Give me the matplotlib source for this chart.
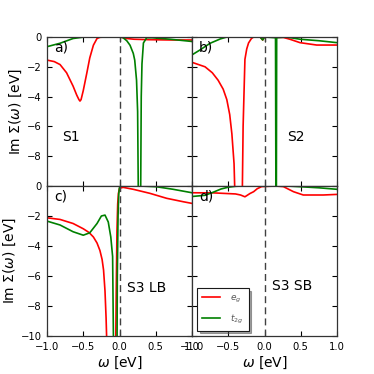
import matplotlib
matplotlib.use("Agg")
import matplotlib.pyplot as plt

plt.rcParams['font.family'] = ['DejaVu Sans']
plt.rcParams['mathtext.fontset'] = 'dejavusans'

OFF = -12.0  # values beyond the plotted range (clipped)

# Panel a) S1
a_eg_w = [-1.0, -0.9, -0.82, -0.73, -0.64, -0.59, -0.56, -0.545, -0.53, -0.5, -0.45, -0.41, -0.36, -0.31, -0.27, -0.2, 0.0, 0.05, 0.1, 0.2, 0.4, 0.7, 1.0]
a_eg_v = [-1.55, -1.65, -1.85, -2.4, -3.3, -3.9, -4.2, -4.3, -4.2, -3.6, -2.4, -1.4, -0.55, -0.1, -0.02, 0.0, 0.0, -0.04, -0.1, -0.15, -0.18, -0.2, -0.2]
a_t2g_w = [-1.0, -0.82, -0.64, -0.5, -0.3, 0.02, 0.05, 0.1, 0.145, 0.19, 0.21, 0.235, 0.25, 0.262, 0.29, 0.3, 0.31, 0.33, 0.375, 0.45, 0.7, 1.0]
a_t2g_v = [-0.65, -0.42, -0.1, -0.01, 0.0, 0.0, -0.05, -0.25, -0.55, -1.1, -1.55, -2.9, -5.0, OFF, OFF, -4.0, -1.8, -0.4, -0.05, -0.05, -0.15, -0.3]

# Panel b) S2
b_eg_w = [-1.0, -0.82, -0.72, -0.64, -0.57, -0.52, -0.48, -0.45, -0.42, -0.40, -0.31, -0.295, -0.285, -0.27, -0.245, -0.22, -0.18, -0.15, -0.06, -0.025, 0.0, 0.26, 0.35, 0.49, 0.72, 1.0]
b_eg_v = [-1.7, -2.0, -2.4, -2.9, -3.5, -4.2, -5.2, -6.5, -8.5, OFF, OFF, -6.0, -4.2, -1.5, -0.8, -0.4, -0.1, 0.0, 0.0, -0.2, 0.0, -0.03, -0.15, -0.38, -0.54, -0.54]
b_t2g_w = [-1.0, -0.89, -0.75, -0.61, -0.52, -0.06, -0.025, 0.0, 0.152, 0.158, 0.163, 0.168, 0.3, 0.49, 0.75, 1.0]
b_t2g_v = [-1.2, -0.87, -0.42, -0.13, 0.0, 0.0, -0.2, 0.0, -0.05, OFF, OFF, -0.05, 0.0, -0.15, -0.25, -0.38]

# Panel c) S3 LB
c_eg_w = [-1.0, -0.82, -0.64, -0.5, -0.42, -0.36, -0.31, -0.27, -0.24, -0.22, -0.2, -0.185, -0.175, -0.17, -0.055, -0.045, -0.035, -0.025, -0.015, 0.0, 0.05, 0.19, 0.42, 0.65, 0.88, 1.0]
c_eg_v = [-2.12, -2.23, -2.5, -2.85, -3.1, -3.4, -3.8, -4.3, -4.9, -5.6, -7.0, -8.8, -10.5, OFF, OFF, -7.0, -3.0, -1.2, -0.5, -0.15, -0.09, -0.22, -0.49, -0.82, -1.05, -1.16]
c_t2g_w = [-1.0, -0.82, -0.64, -0.5, -0.41, -0.31, -0.25, -0.2, -0.155, -0.12, -0.095, -0.08, -0.035, -0.03, -0.02, -0.01, 0.0, 0.02, 0.28, 0.51, 0.74, 1.0]
c_t2g_v = [-2.34, -2.6, -3.05, -3.28, -3.12, -2.5, -2.0, -1.94, -2.4, -3.4, -4.7, OFF, OFF, -6.0, -2.0, -0.5, -0.1, 0.0, 0.0, -0.05, -0.22, -0.45]

# Panel d) S3 SB
d_eg_w = [-1.0, -0.7, -0.57, -0.4, -0.33, -0.27, -0.2, -0.15, -0.1, -0.04, 0.15, 0.26, 0.4, 0.535, 0.81, 1.0]
d_eg_v = [-0.45, -0.46, -0.49, -0.53, -0.6, -0.72, -0.5, -0.38, -0.18, -0.04, 0.0, -0.04, -0.38, -0.6, -0.6, -0.56]
d_t2g_w = [-1.0, -0.82, -0.7, -0.6, -0.5, -0.4, -0.3, 0.3, 0.5, 0.75, 1.0]
d_t2g_v = [-0.7, -0.62, -0.4, -0.2, -0.08, -0.02, 0.0, 0.0, -0.05, -0.12, -0.22]

panel_tags = ['a)', 'b)', 'c)', 'd)']
panel_names = ['S1', 'S2', 'S3 LB', 'S3 SB']
xticks = [-1.0, -0.5, 0.0, 0.5, 1.0]
yticks_top = [0, -2, -4, -6, -8]
yticks_bot = [0, -2, -4, -6, -8, -10]

W = 374.0
L, M, R = 47/W, 192/W, 337/W
T, Mid, B = 1-37/W, 1-186/W, 1-336/W

fig = plt.figure(figsize=(3.74, 3.74), dpi=100)
axa = fig.add_axes([L, Mid, M-L, T-Mid])
axb = fig.add_axes([M, Mid, R-M, T-Mid])
axc = fig.add_axes([L, B, M-L, Mid-B])
axd = fig.add_axes([M, B, R-M, Mid-B])
axes = [axa, axb, axc, axd]
data = [(a_eg_w, a_eg_v, a_t2g_w, a_t2g_v),
        (b_eg_w, b_eg_v, b_t2g_w, b_t2g_v),
        (c_eg_w, c_eg_v, c_t2g_w, c_t2g_v),
        (d_eg_w, d_eg_v, d_t2g_w, d_t2g_v)]

for i, ax in enumerate(axes):
    ew, ev, tw, tv = data[i]
    ax.plot(ew, ev, color='#ff0000', lw=1.2, label=r'$e_g$')
    ax.plot(tw, tv, color='#008000', lw=1.2, label=r'$t_{2g}$')
    ax.axvline(0.0, color='0.25', lw=1.0, ls=(0, (5, 3)))
    ax.set_xlim(-1.0, 1.0)
    ax.set_ylim(-10, 0)
    ax.set_xticks(xticks)
    ax.tick_params(direction='in', top=True, right=True, length=3.5, width=0.8,
                   labelsize=7.2, pad=4)
    for s in ax.spines.values():
        s.set_linewidth(0.9)
        s.set_color('0.2')
    ax.text(-0.9, -0.7, panel_tags[i], fontsize=10, va='center', ha='left')
    if i < 2:
        ax.set_yticks(yticks_top)
        ax.tick_params(labelbottom=False)
    else:
        ax.set_yticks(yticks_bot)
        ax.set_xlabel(r'$\omega$ [eV]', fontsize=10, labelpad=2)
    if i % 2 == 0:
        ax.set_ylabel(r'Im $\Sigma(\omega)$ [eV]', fontsize=10, labelpad=2)
    else:
        ax.tick_params(labelleft=False)

axa.text(-0.79, -6.7, panel_names[0], fontsize=10, va='center', ha='left')
axb.text(0.31, -6.7, panel_names[1], fontsize=10, va='center', ha='left')
axc.text(0.1, -6.8, panel_names[2], fontsize=10, va='center', ha='left')
axd.text(0.11, -6.7, panel_names[3], fontsize=10, va='center', ha='left')

leg = axd.legend(loc='lower left', fontsize=6.5, shadow=True, fancybox=False,
                 handlelength=1.9, labelspacing=0.85, borderpad=0.55,
                 handletextpad=1.2, borderaxespad=0.6, framealpha=1)
leg.get_frame().set_edgecolor('0.1')
leg.get_frame().set_linewidth(0.8)
for t in leg.get_texts():
    t.set_color('0.35')

fig.savefig('out.png', dpi=100)
